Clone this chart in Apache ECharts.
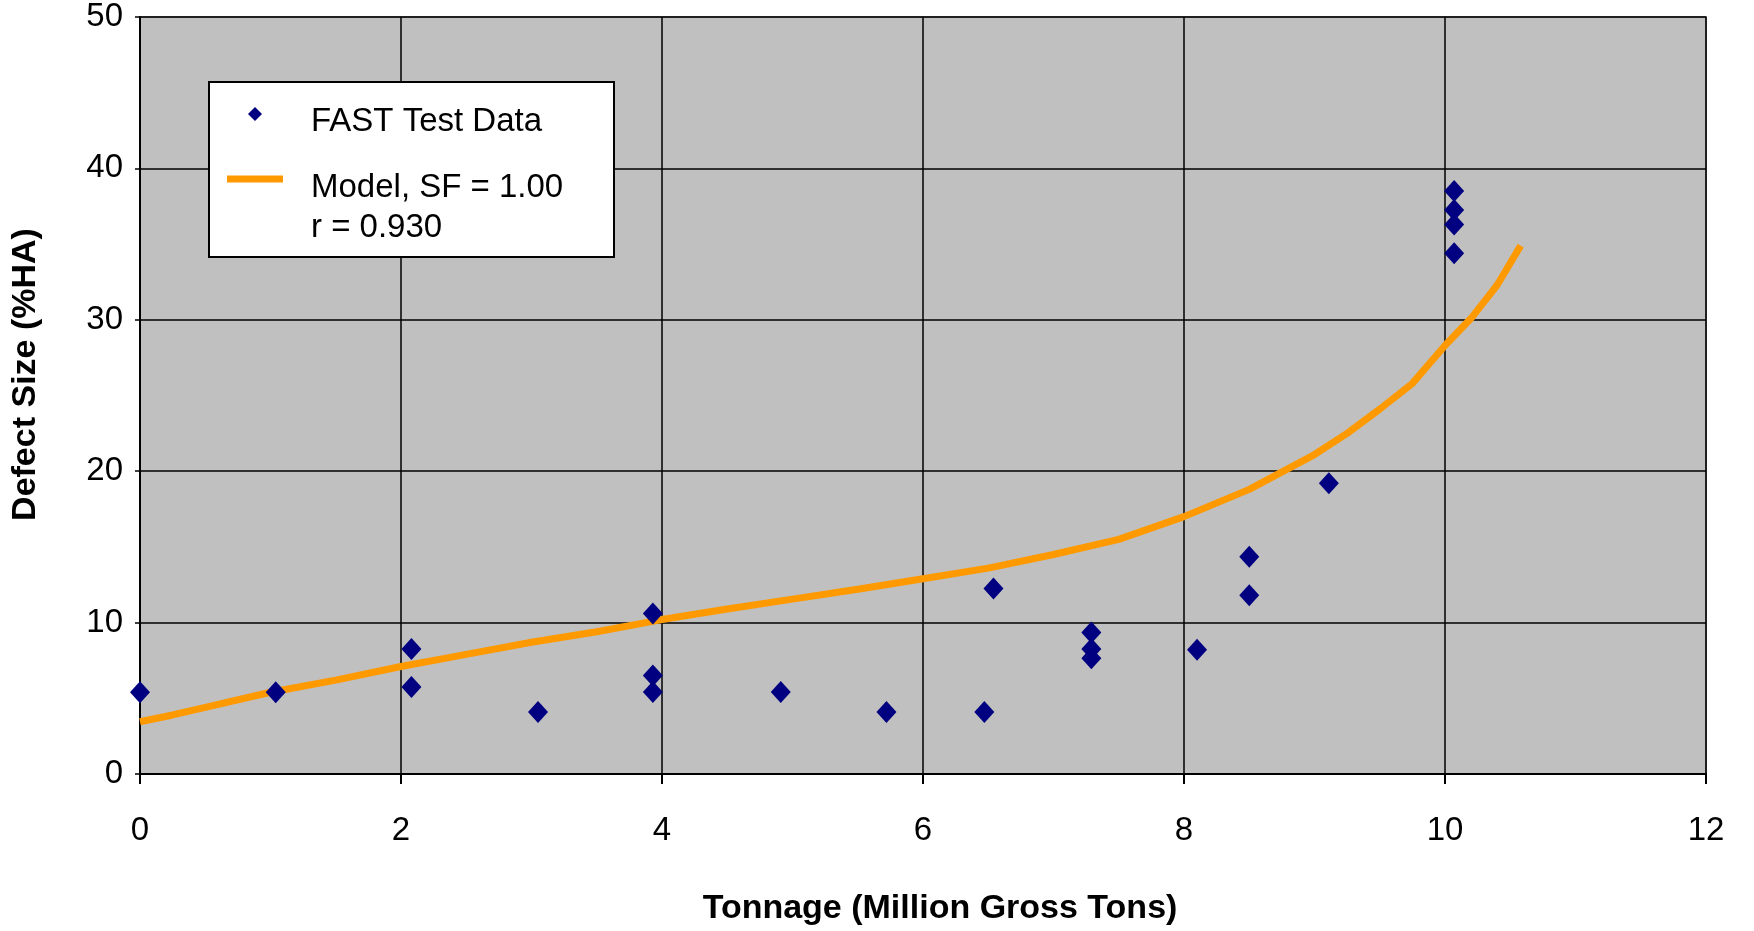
<!DOCTYPE html>
<html>
<head>
<meta charset="utf-8">
<script src="https://cdn.jsdelivr.net/npm/echarts@6/dist/echarts.min.js"></script>
<style>
html,body{margin:0;padding:0;background:#fff;}
#chart{width:1754px;height:931px;}
</style>
</head>
<body>
<div id="chart"></div>
<script>
// FAST test data (tonnage, defect size)
const testTonnage = [0.0, 1.04, 2.08, 2.08, 3.05, 3.93, 3.93, 3.93, 4.91, 5.72, 6.47, 6.54, 7.29, 7.29, 7.29, 8.10, 8.50, 8.50, 9.11, 10.07, 10.07, 10.07, 10.07];
const testDefect  = [5.4, 5.4, 8.25, 5.75, 4.1, 10.6, 6.5, 5.42, 5.42, 4.1, 4.1, 12.25, 9.35, 8.25, 7.65, 8.2, 14.35, 11.8, 19.2, 38.5, 37.25, 36.3, 34.4];
// Model curve, SF = 1.00
const modelTonnage = [0, 0.25, 0.5, 1.0, 1.5, 2.0, 2.5, 3.0, 3.5, 4.0, 4.5, 5.0, 5.5, 6.0, 6.5, 7.0, 7.5, 8.0, 8.5, 9.0, 9.25, 9.5, 9.75, 10.0, 10.2, 10.4, 10.58];
const modelDefect  = [3.45, 3.9, 4.4, 5.4, 6.2, 7.1, 7.9, 8.7, 9.4, 10.2, 10.9, 11.55, 12.2, 12.9, 13.6, 14.5, 15.5, 17.0, 18.8, 21.1, 22.5, 24.1, 25.8, 28.3, 30.1, 32.3, 34.9];
const xTicks = {min: 0, max: 12, interval: 2};
const yTicks = {min: 0, max: 50, interval: 10};
const seriesNames = ['FAST Test Data', 'Model, SF = 1.00\nr = 0.930'];
const xTitle = 'Tonnage (Million Gross Tons)';
const yTitle = 'Defect Size (%HA)';

const FONT = '"Liberation Sans", Arial, sans-serif';
const chart = echarts.init(document.getElementById('chart'), null, {renderer: 'canvas'});

const scatterData = testTonnage.map((x, i) => [x, testDefect[i]]);
const modelData = modelTonnage.map((x, i) => [x, modelDefect[i]]);

function richLabel(name) {
  return '{gap| }\n' + name.split('\n').map(s => '{t|' + s + '}').join('\n');
}

chart.setOption({
  animation: false,
  backgroundColor: '#ffffff',
  grid: {
    left: 140, top: 17, right: 48, bottom: 157,
    show: true, backgroundColor: '#C0C0C0', borderColor: '#808080', borderWidth: 2
  },
  graphic: [{
    type: 'rect', z: 90,
    shape: {x: 209, y: 82, width: 405, height: 175},
    style: {fill: '#ffffff', stroke: '#000000', lineWidth: 2}
  }],
  legend: [{
    z: 100,
    data: [{name: seriesNames[0], icon: 'diamond'}],
    left: 248, top: 87, padding: 0,
    itemWidth: 14, itemHeight: 14,
    formatter: n => richLabel(n),
    textStyle: {
      fontFamily: FONT, fontSize: 33, color: '#000', padding: [0, 0, 0, 44],
      rich: {
        gap: {fontSize: 10, lineHeight: 16, height: 16},
        t: {fontFamily: FONT, fontSize: 33, color: '#000', lineHeight: 38}
      }
    }
  }, {
    z: 100,
    data: [{name: seriesNames[1], icon: 'rect'}],
    left: 227, top: 110, padding: 0,
    itemWidth: 56, itemHeight: 7,
    formatter: n => richLabel(n),
    textStyle: {
      fontFamily: FONT, fontSize: 33, color: '#000', padding: [0, 0, 0, 23],
      rich: {
        gap: {fontSize: 10, lineHeight: 58, height: 58},
        t: {fontFamily: FONT, fontSize: 33, color: '#000', lineHeight: 40}
      }
    }
  }],
  xAxis: {
    type: 'value', min: xTicks.min, max: xTicks.max, interval: xTicks.interval,
    name: xTitle, nameLocation: 'middle', nameGap: 118,
    nameTextStyle: {fontFamily: FONT, fontSize: 34, fontWeight: 'bold', color: '#000', padding: [0, 0, 0, 34]},
    axisLine: {show: true, onZero: false, lineStyle: {color: '#000', width: 2}},
    axisTick: {show: true, length: 10, lineStyle: {color: '#000', width: 2}},
    axisLabel: {fontFamily: FONT, fontSize: 33, color: '#000', margin: 40},
    splitLine: {show: true, lineStyle: {color: '#000', width: 1.5}}
  },
  yAxis: {
    type: 'value', min: yTicks.min, max: yTicks.max, interval: yTicks.interval,
    name: yTitle, nameLocation: 'middle', nameGap: 97, nameRotate: 90,
    nameTextStyle: {fontFamily: FONT, fontSize: 34, fontWeight: 'bold', color: '#000', padding: [0, 0, 0, 42]},
    axisLine: {show: true, onZero: false, lineStyle: {color: '#000', width: 2}},
    axisTick: {show: true, length: 5, lineStyle: {color: '#000', width: 1.5}},
    axisLabel: {fontFamily: FONT, fontSize: 33, color: '#000', margin: 17},
    splitLine: {show: true, lineStyle: {color: '#000', width: 1.5}}
  },
  series: [{
    name: seriesNames[1], type: 'line', data: modelData,
    showSymbol: false, symbol: 'none', smooth: false, z: 3,
    lineStyle: {color: '#FF9900', width: 7},
    itemStyle: {color: '#FF9900'}
  }, {
    name: seriesNames[0], type: 'scatter', data: scatterData,
    symbol: 'diamond', symbolSize: [20, 22], clip: false, z: 4,
    itemStyle: {color: '#000080', opacity: 1}
  }]
});
</script>
</body>
</html>
